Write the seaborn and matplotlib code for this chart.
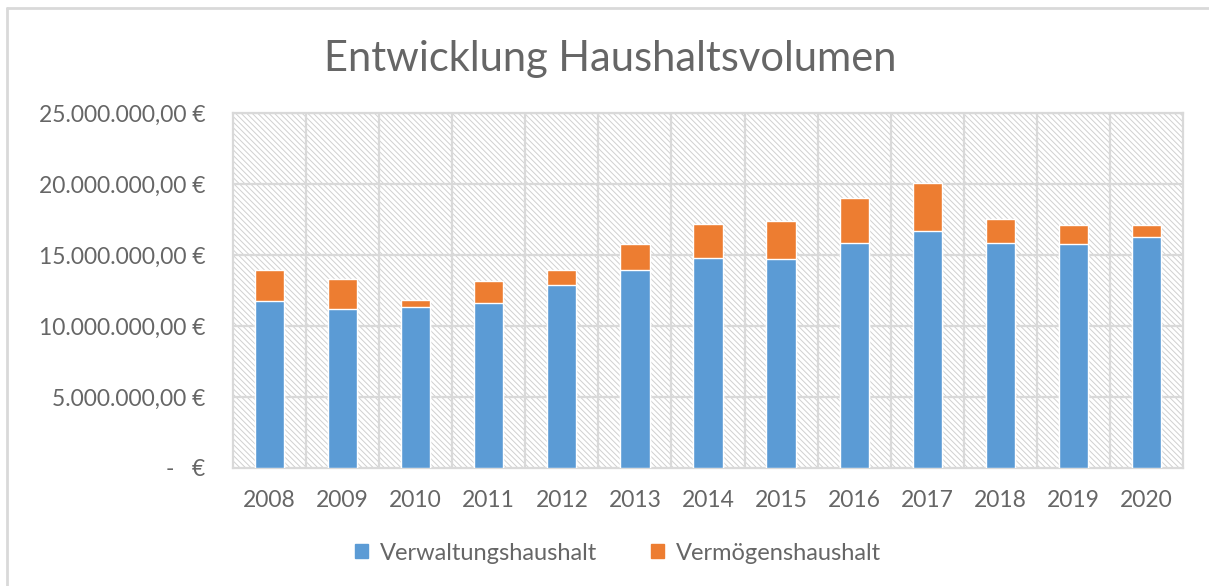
import matplotlib
matplotlib.use("Agg")
import matplotlib.pyplot as plt
import matplotlib.ticker as mtick
from matplotlib.patches import Rectangle, Patch
from matplotlib.lines import Line2D
import seaborn as sns

years = ["2008", "2009", "2010", "2011", "2012", "2013", "2014",
         "2015", "2016", "2017", "2018", "2019", "2020"]
verwaltung = [11.78, 11.22, 11.34, 11.62, 12.86, 13.94, 14.76,
              14.71, 15.85, 16.66, 15.85, 15.75, 16.28]  # Mio. €
vermoegen = [2.16, 2.09, 0.51, 1.53, 1.08, 1.81, 2.44,
             2.66, 3.16, 3.43, 1.70, 1.36, 0.83]  # Mio. €

BLUE = "#5b9bd5"
ORANGE = "#ed7d31"
TEXT = "#666666"
GRID = "#d9d9d9"

sns.set_style("white")
plt.rcParams["font.family"] = ["Lato", "DejaVu Sans"]
plt.rcParams["hatch.linewidth"] = 0.7
plt.rcParams["hatch.color"] = "#d0d0d0"

total = [(a + b) * 1e6 for a, b in zip(verwaltung, vermoegen)]
blue = [a * 1e6 for a in verwaltung]

fig = plt.figure(figsize=(12.09, 5.86), dpi=100)
ax = fig.add_axes([233 / 1209, 118 / 586, 950 / 1209, 355 / 586])

# hatched plot area like the Excel pattern fill
ax.add_patch(Rectangle((0, 0), 1, 1, transform=ax.transAxes, facecolor="white",
                       edgecolor="#d0d0d0", hatch="\\\\\\\\\\\\", lw=0, zorder=0))

sns.barplot(x=years, y=total, color=ORANGE, width=0.4, saturation=1, ax=ax, zorder=3)
sns.barplot(x=years, y=blue, color=BLUE, width=0.4, saturation=1, ax=ax, zorder=4)

ax.set_xlim(-0.5, len(years) - 0.5)
ax.set_ylim(0, 25e6)
ax.set_yticks([0, 5e6, 10e6, 15e6, 20e6, 25e6])


def euro(v, _):
    if v == 0:
        return "-   €"
    s = f"{v:,.2f}".replace(",", "X").replace(".", ",").replace("X", ".")
    return s + " €"


ax.yaxis.set_major_formatter(mtick.FuncFormatter(euro))
for y in [5e6, 10e6, 15e6, 20e6, 25e6]:
    ax.axhline(y, color=GRID, lw=1.6, zorder=1)
for i in range(len(years) - 1):
    ax.axvline(i + 0.5, color=GRID, lw=1.6, zorder=1)
for s in ax.spines.values():
    s.set_visible(True)
    s.set_color(GRID)
    s.set_linewidth(1.6)

ax.tick_params(axis="both", length=0, labelsize=16.5, colors=TEXT)
ax.tick_params(axis="y", pad=20)
ax.tick_params(axis="x", pad=16)
ax.set_xlabel("")
ax.set_ylabel("")

fig.text(0.505, 0.899, "Entwicklung Haushaltsvolumen", ha="center", va="center",
         fontsize=30, color=TEXT)

handles = [Patch(color=BLUE, label="Verwaltungshaushalt"),
           Patch(color=ORANGE, label="Vermögenshaushalt")]
fig.legend(handles=handles, loc="center", bbox_to_anchor=(0.511, 0.056), ncol=2,
           frameon=False, fontsize=17, labelcolor=TEXT, handlelength=0.55,
           handleheight=0.55, handletextpad=0.5, columnspacing=2.3)

# outer chart border (top and left visible)
fig.add_artist(Line2D([7 / 1209, 1], [1 - 8 / 586, 1 - 8 / 586], color=GRID, lw=2,
                      transform=fig.transFigure))
fig.add_artist(Line2D([7 / 1209, 7 / 1209], [0, 1 - 8 / 586], color=GRID, lw=2,
                      transform=fig.transFigure))

fig.savefig("out.png", dpi=100)
